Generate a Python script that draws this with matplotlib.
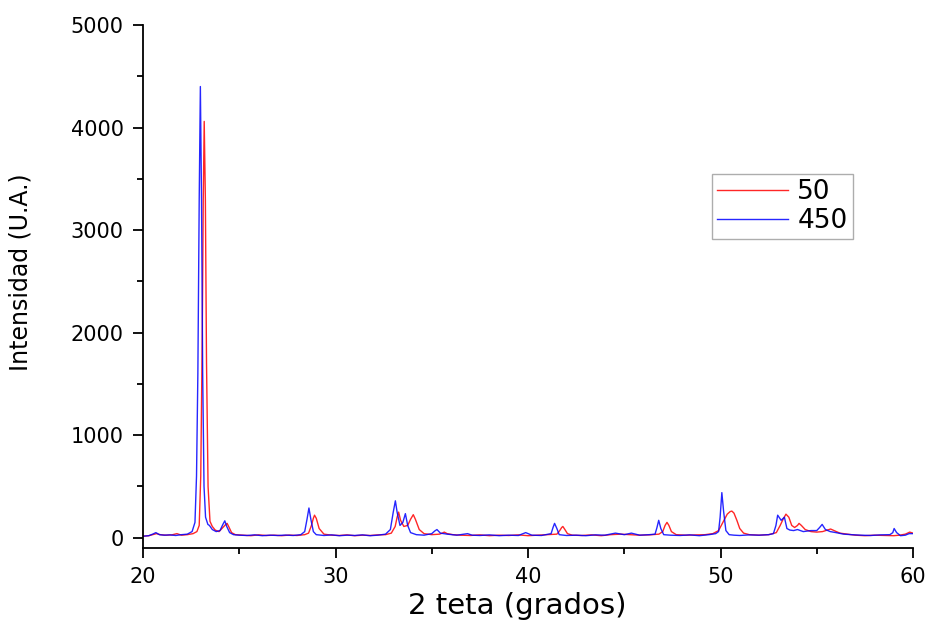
import matplotlib
matplotlib.use("Agg")
import matplotlib.pyplot as plt
from matplotlib.ticker import MultipleLocator

plt.rcParams['font.family'] = ['DejaVu Sans']

# Series "50" (red)
x_50 = [20.0, 20.3, 20.5, 20.7, 20.9, 21.2, 21.5, 21.76, 22.0, 22.3, 22.6, 22.8, 22.92, 23.0, 23.08,
        23.13, 23.18, 23.24, 23.3, 23.38, 23.48, 23.6, 23.75, 23.95, 24.15, 24.3, 24.37, 24.45, 24.6,
        24.8, 25.2, 25.6, 26.0, 26.4, 26.8, 27.2, 27.6, 28.0, 28.4, 28.6, 28.75, 28.85, 28.91, 29.0,
        29.15, 29.4, 29.8, 30.2, 30.6, 31.0, 31.4, 31.8, 32.2, 32.6, 32.9, 33.1, 33.2, 33.28, 33.38,
        33.55, 33.75, 33.9, 34.04, 34.15, 34.35, 34.6, 35.0, 35.4, 35.55, 35.65, 35.8, 36.1, 36.5,
        37.0, 37.5, 38.0, 38.5, 39.0, 39.5, 40.0, 40.5, 41.0, 41.5, 41.65, 41.75, 41.81, 41.9, 42.05,
        42.3, 42.8, 43.3, 43.8, 44.3, 44.8, 45.3, 45.8, 46.3, 46.8, 47.0, 47.12, 47.22, 47.32, 47.45,
        47.7, 48.2, 48.7, 49.2, 49.6, 49.9, 50.15, 50.35, 50.5, 50.59, 50.7, 50.85, 51.0, 51.2, 51.5,
        52.0, 52.5, 52.9, 53.1, 53.25, 53.4, 53.55, 53.7, 53.85, 54.0, 54.08, 54.2, 54.4, 54.7, 55.0,
        55.3, 55.55, 55.72, 55.9, 56.2, 56.6, 57.0, 57.5, 58.0, 58.5, 59.0, 59.3, 59.6, 59.83, 60.0]
y_50 = [15, 20, 30, 40, 30, 25, 28, 40, 25, 30, 40, 60, 120, 600, 2000,
        3300, 4060, 3300, 1700, 500, 160, 110, 75, 60, 100, 130, 140, 110, 50,
        30, 25, 20, 28, 22, 25, 20, 26, 22, 30, 45, 120, 190, 220, 190,
        90, 35, 25, 22, 28, 20, 25, 22, 28, 30, 45, 110, 200, 250, 170,
        110, 120, 180, 225, 180, 80, 40, 30, 35, 45, 55, 40, 30, 25,
        22, 28, 20, 25, 22, 28, 20, 25, 30, 35, 70, 100, 110, 85, 40,
        25, 22, 28, 20, 30, 35, 30, 25, 28, 35, 60, 120, 150, 120, 60,
        30, 25, 28, 30, 40, 70, 160, 230, 255, 260, 240, 170, 90, 45, 30,
        25, 30, 50, 120, 180, 230, 200, 120, 100, 120, 140, 120, 80, 60, 55,
        60, 75, 85, 70, 45, 35, 25, 20, 25, 22, 20, 25, 35, 55, 45]

# Series "450" (blue)
x_450 = [20.0, 20.3, 20.5, 20.67, 20.85, 21.1, 21.4, 21.7, 22.0, 22.3, 22.55, 22.7, 22.78, 22.85,
         22.92, 22.98, 23.04, 23.1, 23.17, 23.25, 23.37, 23.45, 23.6, 23.8, 24.0, 24.15, 24.25, 24.35,
         24.5, 24.7, 25.0, 25.4, 25.8, 26.2, 26.6, 27.0, 27.4, 27.8, 28.2, 28.4, 28.52, 28.62, 28.72,
         28.85, 29.0, 29.4, 29.8, 30.2, 30.6, 31.0, 31.4, 31.8, 32.2, 32.6, 32.85, 33.0, 33.11, 33.2,
         33.35, 33.5, 33.63, 33.75, 33.9, 34.2, 34.6, 35.0, 35.15, 35.27, 35.45, 35.8, 36.3, 36.86,
         37.1, 37.5, 38.0, 38.5, 39.0, 39.5, 39.88, 40.2, 40.7, 41.2, 41.3, 41.38, 41.5, 41.62, 42.0,
         42.5, 43.0, 43.5, 44.0, 44.54, 45.0, 45.37, 45.8, 46.3, 46.6, 46.7, 46.79, 46.9, 47.05, 47.4,
         47.9, 48.4, 48.9, 49.4, 49.75, 49.9, 49.98, 50.07, 50.16, 50.28, 50.45, 50.7, 51.0, 51.5,
         52.0, 52.5, 52.75, 52.88, 52.97, 53.15, 53.32, 53.45, 53.6, 53.8, 54.0, 54.3, 54.7, 55.0,
         55.15, 55.28, 55.45, 55.7, 56.0, 56.4, 56.8, 57.3, 57.8, 58.3, 58.8, 58.95, 59.02, 59.15,
         59.35, 59.6, 59.8, 60.0]
y_450 = [15, 20, 35, 50, 30, 25, 28, 22, 30, 35, 60, 150, 600, 1600,
         3300, 4400, 3300, 1600, 500, 200, 130, 120, 80, 60, 70, 130, 165, 110,
         50, 30, 25, 22, 28, 20, 25, 22, 26, 22, 30, 60, 180, 290, 180,
         60, 30, 22, 28, 20, 25, 22, 28, 20, 25, 35, 80, 250, 360, 250,
         120, 150, 235, 120, 50, 30, 25, 40, 65, 80, 45, 35, 25, 40,
         25, 22, 28, 20, 25, 22, 50, 25, 22, 40, 100, 140, 90, 30, 22,
         25, 20, 28, 25, 45, 30, 45, 25, 30, 35, 100, 170, 90, 30, 25,
         22, 28, 20, 30, 40, 60, 200, 440, 260, 70, 30, 25, 22, 28,
         25, 30, 40, 120, 220, 170, 200, 90, 75, 70, 80, 60, 70, 70,
         100, 130, 80, 60, 50, 35, 30, 25, 22, 28, 30, 50, 90, 50,
         20, 25, 40, 40]

fig = plt.figure(figsize=(9.32, 6.31), dpi=100)
ax = fig.add_axes([143/932, 1 - 548/631, 770/932, 523/631])

ax.plot(x_50, y_50, color='#ff0000', lw=1.0, alpha=0.85, label='50')
ax.plot(x_450, y_450, color='#0000ff', lw=1.0, alpha=0.85, label='450')

ax.set_xlim(20, 60)
ax.set_ylim(-100, 5000)
ax.xaxis.set_major_locator(MultipleLocator(10))
ax.xaxis.set_minor_locator(MultipleLocator(5))
ax.yaxis.set_major_locator(MultipleLocator(1000))
ax.yaxis.set_minor_locator(MultipleLocator(500))
ax.spines['top'].set_visible(False)
ax.spines['right'].set_visible(False)
for s in ('left', 'bottom'):
    ax.spines[s].set_linewidth(1.3)
ax.tick_params(which='major', direction='out', length=7, width=1.3, labelsize=15, pad=7)
ax.tick_params(which='minor', direction='out', length=4, width=1.3)

ax.set_xlabel('2 teta (grados)', fontsize=21)
ax.set_ylabel('Intensidad (U.A.)', fontsize=17)
ax.xaxis.set_label_coords(0.486, -0.085)
ax.yaxis.set_label_coords(-0.143, 0.528)

leg = ax.legend(loc='upper right', bbox_to_anchor=(0.922, 0.715), borderaxespad=0,
                fontsize=19, frameon=True, fancybox=False, handlelength=2.7,
                handletextpad=0.35, borderpad=0.2, labelspacing=0.1)
leg.get_frame().set_edgecolor('#999999')
leg.get_frame().set_linewidth(1.0)

fig.savefig('out.png', dpi=100)
